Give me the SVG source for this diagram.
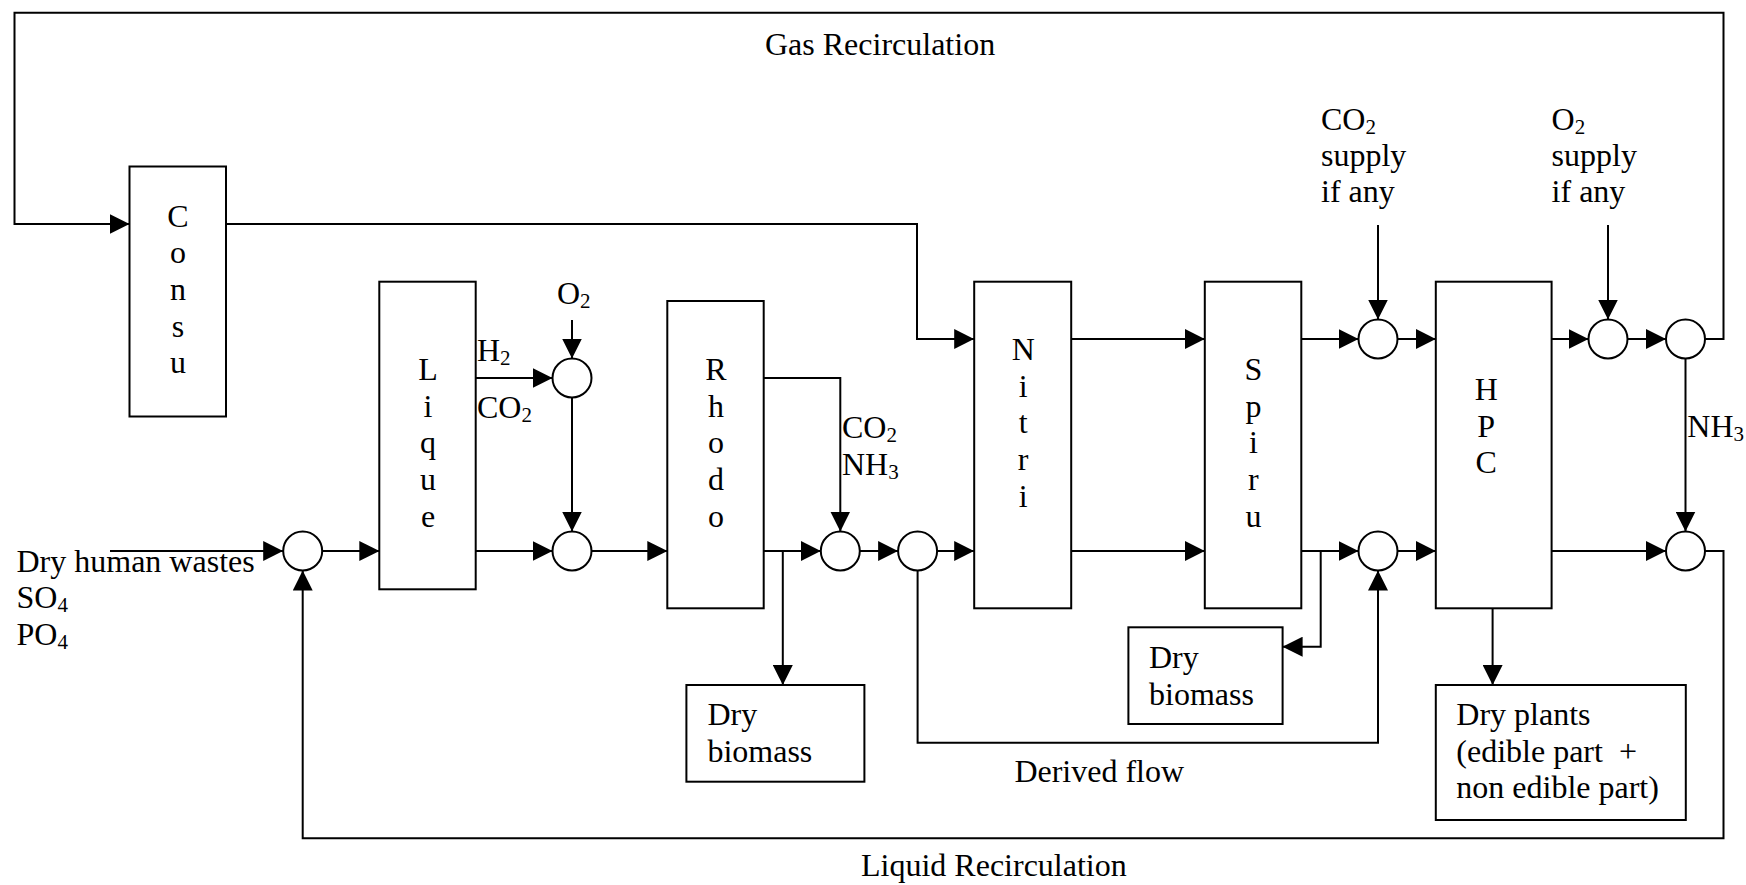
<svg xmlns="http://www.w3.org/2000/svg" width="1746" height="885" viewBox="0 0 1746 885">
<style>
text{font-family:"Liberation Serif","Times New Roman",serif;font-size:32px;fill:#000}
.m{text-anchor:middle}
.sub{font-size:21px}
.box{fill:#fff;stroke:#000;stroke-width:2}
.node circle{fill:#fff;stroke:#000;stroke-width:2}
#connectors path{fill:none;stroke:#000;stroke-width:2}
.a{marker-end:url(#arr)}
</style>
<defs>
<marker id="arr" markerUnits="userSpaceOnUse" markerWidth="20" markerHeight="20" refX="20" refY="10" orient="auto" viewBox="0 0 20 20">
<path d="M0,0 L20,10 L0,20 z" fill="#000"/>
</marker>
</defs>
<rect width="1746" height="885" fill="#fff"/>

<g id="connectors">
<path class="a" d="M1705,339 H1723.5 V12.7 H14.5 V224 H129.5"/>
<path class="a" d="M226,224 H917 V339 H974.2"/>
<path class="a" d="M110,551 H283.2"/>
<path class="a" d="M322.2,551 H379.3"/>
<path class="a" d="M475.7,551 H552.5"/>
<path class="a" d="M475.7,378 H552.5"/>
<path class="a" d="M572,320 V358.5"/>
<path class="a" d="M572,397.5 V531.5"/>
<path class="a" d="M591.5,551 H667.3"/>
<path class="a" d="M763.7,551 H820.8"/>
<path class="a" d="M782.8,551 V685"/>
<path class="a" d="M763.7,378 H840.3 V531.5"/>
<path class="a" d="M859.8,551 H898.1"/>
<path class="a" d="M937.1,551 H974.2"/>
<path class="a" d="M917.6,570.5 V742.7 H1378 V570.5"/>
<path class="a" d="M1071.2,339 H1204.8"/>
<path class="a" d="M1071.2,551 H1204.8"/>
<path class="a" d="M1301.3,339 H1358.5"/>
<path class="a" d="M1378,225 V319.5"/>
<path class="a" d="M1397.5,339 H1435.8"/>
<path class="a" d="M1301.3,551 H1358.5"/>
<path class="a" d="M1320.7,551 V646.7 H1282.6"/>
<path class="a" d="M1397.5,551 H1435.8"/>
<path class="a" d="M1551.6,339 H1588.5"/>
<path class="a" d="M1608,225 V319.5"/>
<path class="a" d="M1627.5,339 H1666"/>
<path class="a" d="M1685.5,358.5 V531.5"/>
<path class="a" d="M1551.6,551 H1666"/>
<path class="a" d="M1492.6,608.3 V685"/>
<path class="a" d="M1705,551 H1723.5 V838.3 H302.7 V570.5"/>
</g>

<g id="consu" class="node">
<rect class="box" x="129.5" y="166.5" width="96.5" height="250"/>
<text class="m" x="178" y="227">C</text>
<text class="m" x="178" y="263.3">o</text>
<text class="m" x="178" y="300">n</text>
<text class="m" x="178" y="336.7">s</text>
<text class="m" x="178" y="373.3">u</text>
</g>
<g id="lique" class="node">
<rect class="box" x="379.3" y="281.7" width="96.4" height="307.6"/>
<text class="m" x="428" y="380">L</text>
<text class="m" x="428" y="416.7">i</text>
<text class="m" x="428" y="453.3">q</text>
<text class="m" x="428" y="490">u</text>
<text class="m" x="428" y="526.7">e</text>
</g>
<g id="rhodo" class="node">
<rect class="box" x="667.3" y="301" width="96.4" height="307.3"/>
<text class="m" x="715.9" y="380">R</text>
<text class="m" x="715.9" y="416.7">h</text>
<text class="m" x="715.9" y="453.3">o</text>
<text class="m" x="715.9" y="490">d</text>
<text class="m" x="715.9" y="526.7">o</text>
</g>
<g id="nitri" class="node">
<rect class="box" x="974.2" y="281.7" width="97" height="326.6"/>
<text class="m" x="1023.2" y="360">N</text>
<text class="m" x="1023.2" y="396.7">i</text>
<text class="m" x="1023.2" y="433.3">t</text>
<text class="m" x="1023.2" y="470">r</text>
<text class="m" x="1023.2" y="506.7">i</text>
</g>
<g id="spiru" class="node">
<rect class="box" x="1204.8" y="281.7" width="96.5" height="326.6"/>
<text class="m" x="1253.4" y="380">S</text>
<text class="m" x="1253.4" y="416.7">p</text>
<text class="m" x="1253.4" y="453.3">i</text>
<text class="m" x="1253.4" y="490">r</text>
<text class="m" x="1253.4" y="526.7">u</text>
</g>
<g id="hpc" class="node">
<rect class="box" x="1435.8" y="281.7" width="115.8" height="326.6"/>
<text class="m" x="1486.2" y="400">H</text>
<text class="m" x="1486.2" y="436.7">P</text>
<text class="m" x="1486.2" y="473.3">C</text>
</g>
<g id="biomass1" class="node">
<rect class="box" x="686.4" y="685" width="178" height="96.7"/>
<text x="707.4" y="725">Dry</text>
<text x="707.4" y="761.7">biomass</text>
</g>
<g id="biomass2" class="node">
<rect class="box" x="1128.4" y="627.3" width="154.2" height="96.7"/>
<text x="1149" y="668.3">Dry</text>
<text x="1149" y="705">biomass</text>
</g>
<g id="plants" class="node">
<rect class="box" x="1435.8" y="685" width="250" height="135"/>
<text x="1456.3" y="725">Dry plants</text>
<text x="1456.3" y="761.7">(edible part&#160; +</text>
<text x="1456.3" y="798.3">non edible part)</text>
</g>

<g id="mix0" class="node"><circle cx="302.7" cy="551" r="19.5"/></g>
<g id="mix1" class="node"><circle cx="572" cy="378" r="19.5"/></g>
<g id="mix2" class="node"><circle cx="572" cy="551" r="19.5"/></g>
<g id="mix3" class="node"><circle cx="840.3" cy="551" r="19.5"/></g>
<g id="mix4" class="node"><circle cx="917.6" cy="551" r="19.5"/></g>
<g id="mix5" class="node"><circle cx="1378" cy="339" r="19.5"/></g>
<g id="mix6" class="node"><circle cx="1378" cy="551" r="19.5"/></g>
<g id="mix7" class="node"><circle cx="1608" cy="339" r="19.5"/></g>
<g id="mix8" class="node"><circle cx="1685.5" cy="339" r="19.5"/></g>
<g id="mix9" class="node"><circle cx="1685.5" cy="551" r="19.5"/></g>

<g id="labels">
<text x="765" y="55">Gas Recirculation</text>
<text x="861" y="876">Liquid Recirculation</text>
<text x="1014.4" y="781.7">Derived flow</text>
<text x="16.5" y="571.7">Dry human wastes</text>
<text x="16.5" y="608.3">SO<tspan class="sub" dy="4">4</tspan></text>
<text x="16.5" y="645">PO<tspan class="sub" dy="4">4</tspan></text>
<text x="477" y="360.5">H<tspan class="sub" dy="4">2</tspan></text>
<text x="477" y="418">CO<tspan class="sub" dy="4">2</tspan></text>
<text x="557" y="304">O<tspan class="sub" dy="4">2</tspan></text>
<text x="842" y="437.5">CO<tspan class="sub" dy="4">2</tspan></text>
<text x="842" y="474.5">NH<tspan class="sub" dy="4">3</tspan></text>
<text x="1321" y="130">CO<tspan class="sub" dy="4">2</tspan></text>
<text x="1321" y="166">supply</text>
<text x="1321" y="201.7">if any</text>
<text x="1551.6" y="130">O<tspan class="sub" dy="4">2</tspan></text>
<text x="1551.6" y="166">supply</text>
<text x="1551.6" y="201.7">if any</text>
<text x="1687.3" y="436.7">NH<tspan class="sub" dy="4">3</tspan></text>
</g>
</svg>
